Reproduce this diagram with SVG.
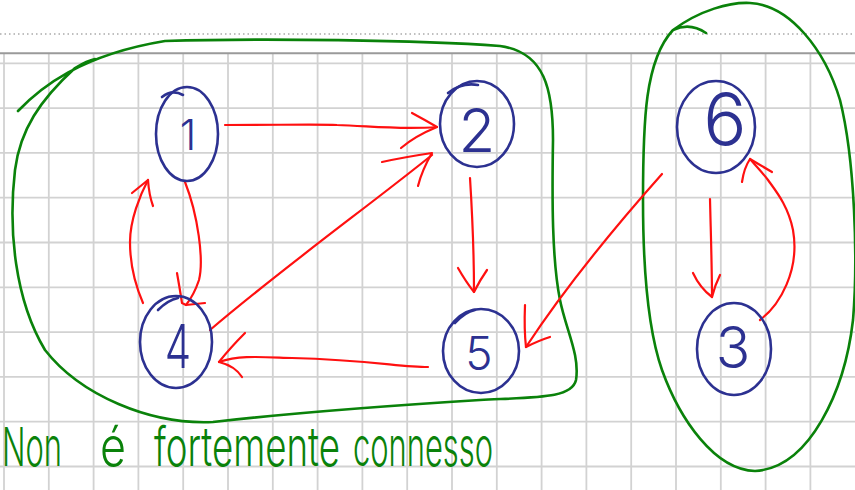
<svg xmlns="http://www.w3.org/2000/svg" width="855" height="490" viewBox="0 0 855 490">
  <style>
    .grid { stroke: #d2d2d2; stroke-width: 1.8; fill: none; }
    .node { fill: none; stroke: #2c3191; stroke-width: 2.6; stroke-linecap: round; stroke-linejoin: round; }
    .digit { fill: #2c3191; font-family: Inter, "Liberation Sans", sans-serif; font-weight: 300; text-anchor: middle; }
    .edge { fill: none; stroke: #ff1010; stroke-width: 2.2; stroke-linecap: round; stroke-linejoin: round; }
    .blob { fill: none; stroke: #0a820a; stroke-width: 2.6; stroke-linecap: round; stroke-linejoin: round; }
    .note { fill: #0a820a; font-family: Inter, "Liberation Sans", sans-serif; font-weight: 300; }
  </style>

  <!-- paper -->
  <rect x="0" y="0" width="855" height="490" fill="#ffffff"/>
  <line x1="0" y1="34" x2="855" y2="34" stroke="#aaaaaa" stroke-width="1.5" stroke-dasharray="1.5 3"/>
  <path class="grid" d="M4,53V490 M48.8,53V490 M93.6,53V490 M138.4,53V490 M183.2,53V490 M228,53V490 M272.8,53V490 M317.6,53V490 M362.4,53V490 M407.2,53V490 M452,53V490 M496.8,53V490 M541.6,53V490 M586.4,53V490 M631.2,53V490 M676,53V490 M720.8,53V490 M765.6,53V490 M810.4,53V490 M0,63.3H855 M0,108.1H855 M0,152.9H855 M0,197.7H855 M0,242.5H855 M0,287.3H855 M0,332.1H855 M0,376.9H855 M0,421.7H855 M0,466.5H855"/>
  <line x1="0" y1="53.3" x2="855" y2="53.3" stroke="#9a9a9a" stroke-width="2"/>

  <!-- component outlines -->
  <g id="component-a">
    <path class="blob" d="M18,111 C40,88 80,55 165,41 C260,38 420,40 500,46 C545,52 553,90 553,140 C552,200 552,260 560,300 C566,330 580,355 576,380 C572,398 540,397 480,400 C400,405 300,412 213,422 C150,425 80,395 45,350 C15,300 8,230 15,170 C20,130 40,100 75,68 C85,62 90,60 95,59"/>
  </g>
  <g id="component-b">
    <path class="blob" d="M706,33 Q690,22 673,30 C700,10 730,2 750,3 C790,5 825,50 840,100 C855,160 858,260 853,320 C845,390 810,468 755,471 C715,470 680,420 662,370 C648,330 643,270 643,200 C643,120 645,60 673,30"/>
  </g>

  <!-- edges -->
  <g id="edges">
    <!-- 1 -> 2 -->
    <path class="edge" d="M225,125 C280,125 320,124 337,125 C370,126 400,130 437,127"/>
    <path class="edge" d="M412,113 Q425,120 437,127 Q415,136 401,148"/>
    <!-- 4 -> 2 -->
    <path class="edge" d="M210,330 C280,270 370,205 432,155"/>
    <path class="edge" d="M382,162 Q405,157 432,153 Q422,170 418,186"/>
    <!-- 1 -> 4 -->
    <path class="edge" d="M185,182 C198,215 204,260 199,280 C195,292 190,300 186,305"/>
    <path class="edge" d="M177,273 Q180,290 182,303 L186,305 L205,303"/>
    <!-- 4 -> 1 -->
    <path class="edge" d="M143,303 C133,280 130,260 130,242 C130,220 140,195 148,180"/>
    <path class="edge" d="M132,193 L148,180 Q149,195 153,206"/>
    <!-- 5 -> 4 -->
    <path class="edge" d="M428,367 C400,367 370,360 292,358 C260,357 240,355 219,362"/>
    <path class="edge" d="M245,333 Q230,348 219,362 Q235,366 242,377"/>
    <!-- 2 -> 5 -->
    <path class="edge" d="M470,178 C472,210 474,260 474,292"/>
    <path class="edge" d="M458,268 Q466,282 474,292 Q480,280 487,270"/>
    <!-- 6 -> 5 -->
    <path class="edge" d="M662,174 C630,210 570,280 526,347"/>
    <path class="edge" d="M525,305 Q524,330 526,347 Q540,340 550,337"/>
    <!-- 6 -> 3 -->
    <path class="edge" d="M710,199 C711,240 712,270 712,297"/>
    <path class="edge" d="M693,273 Q700,288 712,297 Q715,285 720,275"/>
    <!-- 3 -> 6 -->
    <path class="edge" d="M760,320 C780,305 800,270 793,230 C788,205 775,190 768,180 C762,172 755,165 750,159"/>
    <path class="edge" d="M742,182 Q744,168 750,159 Q760,165 772,172"/>
  </g>

  <!-- nodes -->
  <g id="node-1">
    <ellipse class="node" cx="187" cy="134" rx="31" ry="47"/>
    <path class="node" d="M162,97 Q172,89 183,95"/>
    <text class="digit" x="188" y="150" font-size="42">1</text>
  </g>
  <g id="node-2">
    <ellipse class="node" cx="477" cy="124" rx="37" ry="43"/>
    <path class="node" d="M448,93 Q462,82 478,85"/>
    <text class="digit" x="477" y="152" font-size="60">2</text>
  </g>
  <g id="node-4">
    <ellipse class="node" cx="176" cy="342" rx="36" ry="46"/>
    <path class="node" d="M158,310 Q168,300 178,298"/>
    <text class="digit" x="178" y="368" font-size="60" transform="translate(178 0) scale(0.7 1) translate(-178 0)">4</text>
  </g>
  <g id="node-5">
    <ellipse class="node" cx="481" cy="351" rx="38" ry="42"/>
    <path class="node" d="M455,323 Q465,312 475,310"/>
    <text class="digit" x="479" y="370" font-size="46">5</text>
  </g>
  <g id="node-6">
    <ellipse class="node" cx="716" cy="127" rx="39" ry="46"/>
    <text class="digit" x="725" y="145" font-size="72">6</text>
  </g>
  <g id="node-3">
    <ellipse class="node" cx="734" cy="349" rx="37" ry="46"/>
    <text class="digit" x="733" y="368" font-size="57">3</text>
  </g>

  <!-- caption, written narrow: horizontal squeeze of 0.65 -->
  <g id="caption" transform="scale(0.65 1)">
    <text class="note" x="3.1" y="466" font-size="54" textLength="92.3" lengthAdjust="spacingAndGlyphs">Non</text>
    <text class="note" x="153.8" y="466" font-size="54" textLength="40" lengthAdjust="spacingAndGlyphs">é</text>
    <text class="note" x="236.9" y="466" font-size="54" textLength="286.2" lengthAdjust="spacingAndGlyphs">fortemente</text>
    <text class="note" x="543.1" y="466" font-size="54" textLength="215.4" lengthAdjust="spacingAndGlyphs">connesso</text>
  </g>
</svg>
